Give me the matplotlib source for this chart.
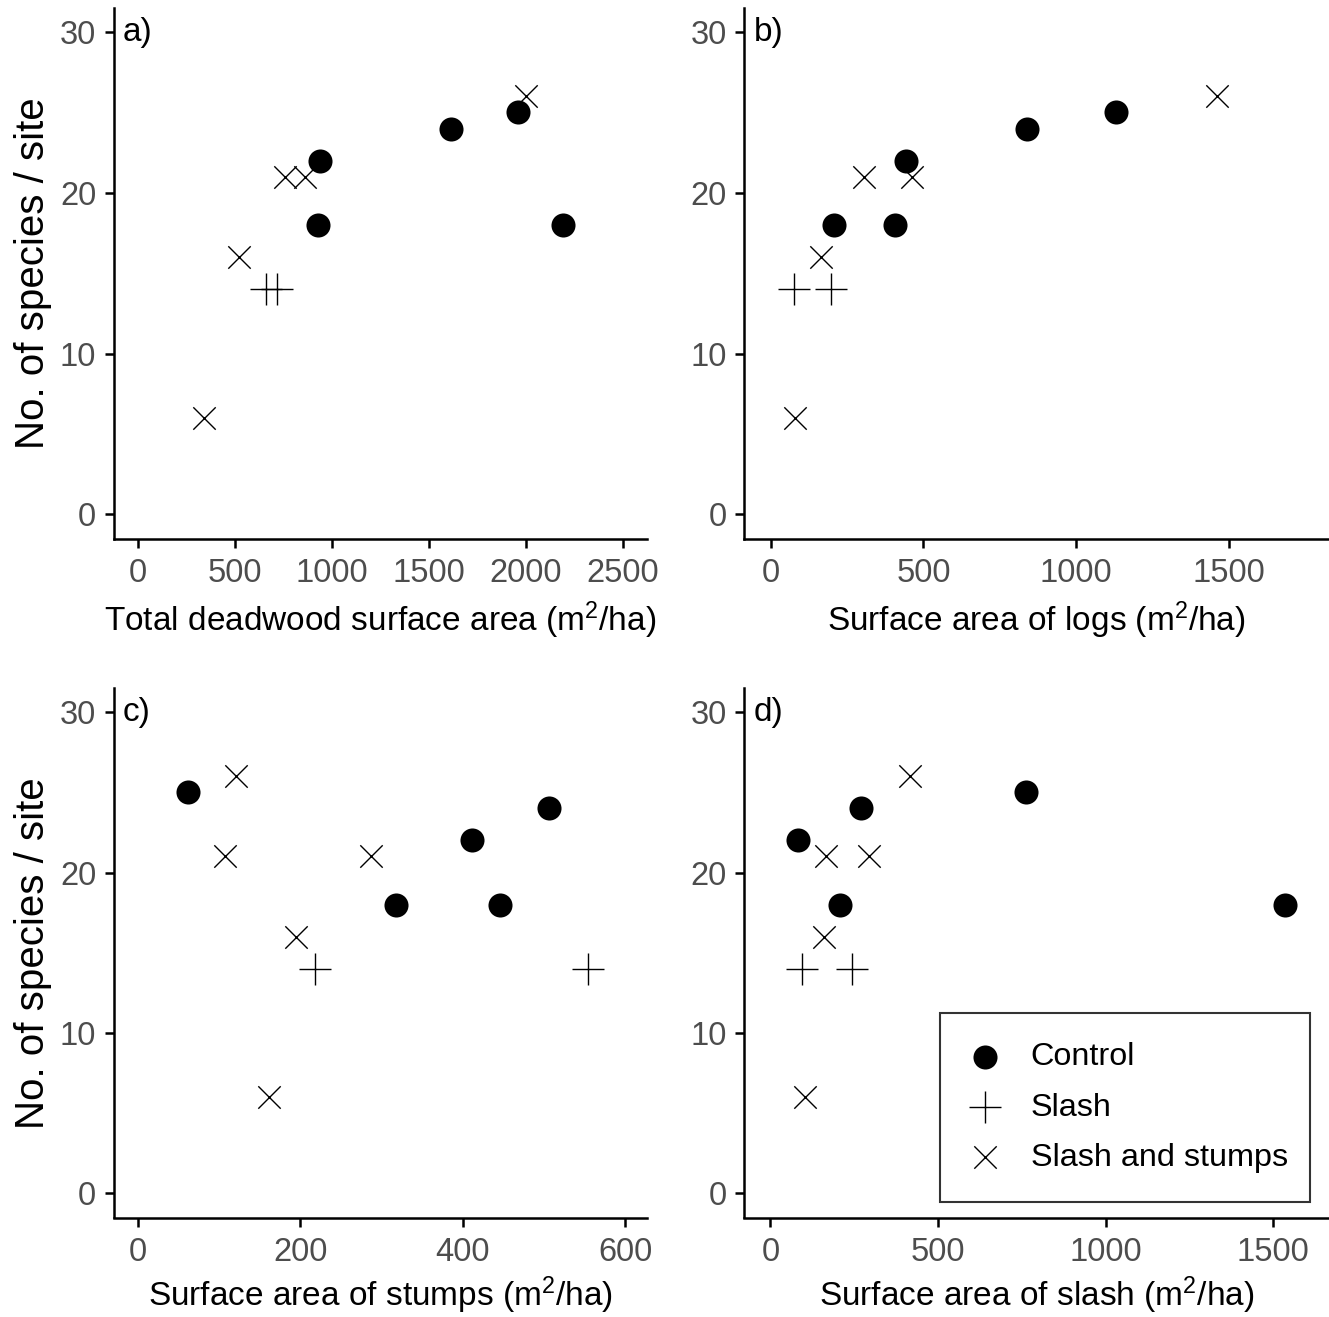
import matplotlib
matplotlib.use("Agg")
import matplotlib.pyplot as plt
import matplotlib.transforms as mtransforms

plt.rcParams['font.family'] = ['Liberation Sans', 'DejaVu Sans']
plt.rcParams['mathtext.fontset'] = 'custom'
plt.rcParams['mathtext.rm'] = 'Liberation Sans'
plt.rcParams['mathtext.it'] = 'Liberation Sans'

# ---- data ----
groups = ["Control", "Slash", "Slash and stumps"]

species_control = [25, 24, 22, 18, 18]
species_slash = [14, 14]
species_ss = [6, 16, 21, 21, 26]

total_control = [1958, 1615, 937, 931, 2191]
total_slash = [716, 660]
total_ss = [342, 524, 759, 863, 2000]

logs_control = [1130, 839, 443, 408, 209]
logs_slash = [77, 198]
logs_ss = [80, 165, 307, 462, 1462]

stumps_control = [62, 506, 411, 318, 446]
stumps_slash = [554, 218]
stumps_ss = [161, 195, 287, 107, 121]

slash_control = [762, 271, 82, 208, 1535]
slash_slash = [93, 243]
slash_ss = [103, 160, 167, 294, 416]

panel_labels = ["a)", "b)", "c)", "d)"]
x_titles = ["Total deadwood surface area", "Surface area of logs",
            "Surface area of stumps", "Surface area of slash"]
x_ticks = [[0, 500, 1000, 1500, 2000, 2500], [0, 500, 1000, 1500],
           [0, 200, 400, 600], [0, 500, 1000, 1500]]
y_ticks = [0, 10, 20, 30]
y_title = "No. of species / site"

xdata = [(total_control, total_slash, total_ss),
         (logs_control, logs_slash, logs_ss),
         (stumps_control, stumps_slash, stumps_ss),
         (slash_control, slash_slash, slash_ss)]
ydata = (species_control, species_slash, species_ss)

# ---- layout ----
W, H = 1329, 1317
fig = plt.figure(figsize=(W / 100, H / 100), dpi=100)

def frac(l, r, t, b):
    return [l / W, 1 - b / H, (r - l) / W, (b - t) / H]

rects = [frac(113.6, 647, 8, 538.5), frac(744, 1329, 8, 538.5),
         frac(113.6, 647, 688, 1217.5), frac(744, 1329, 688, 1217.5)]
xlims = [(-125, 2625), (-87, 1827), (-30, 627), (-79, 1667)]
xlabel_pads = [7.5, 7.5, 4.5, 4.5]

marker_styles = [dict(marker='o', s=300, c='black', linewidths=0),
                 dict(marker='+', s=560, c='black', linewidths=1.0),
                 dict(marker='x', s=260, c='black', linewidths=1.0)]

tick_color = '#4D4D4D'
handles = []
for i in range(4):
    ax = fig.add_axes(rects[i])
    for g in range(3):
        h = ax.scatter(xdata[i][g], ydata[g], label=groups[g], **marker_styles[g])
        if i == 3:
            handles.append(h)
    ax.set_xlim(*xlims[i])
    ax.set_ylim(-1.5, 31.5)
    ax.set_xticks(x_ticks[i])
    ax.set_yticks(y_ticks)
    for s in ['top', 'right']:
        ax.spines[s].set_visible(False)
    for s in ['left', 'bottom']:
        ax.spines[s].set_linewidth(1.8)
    ax.tick_params(axis='both', length=6.5, width=1.8, labelsize=23.5,
                   labelcolor=tick_color)
    ax.tick_params(axis='x', pad=7.5)
    ax.tick_params(axis='y', pad=6)
    ax.set_xlabel(x_titles[i] + r" (m$^{2}$/ha)", fontsize=24,
                  labelpad=xlabel_pads[i])
    if i in (0, 2):
        ax.set_ylabel(y_title, fontsize=29, labelpad=6)
    trans = mtransforms.blended_transform_factory(ax.transAxes, ax.transData)
    ax.text(0.016, 30, panel_labels[i], transform=trans, ha='left', va='center',
            fontsize=24, color='black')
    if i == 3:
        leg = ax.legend(handles=handles, loc='upper left',
                        bbox_to_anchor=(940 / W, 1 - 1205 / H, 370 / W, 192 / H),
                        bbox_transform=fig.transFigure, borderaxespad=0,
                        mode='expand',
                        fontsize=23.3, frameon=True, fancybox=False,
                        edgecolor='black', borderpad=0.9, labelspacing=0.63,
                        handlelength=1.0, handletextpad=0.9, scatterpoints=1)
        leg.get_frame().set_linewidth(1.5)

fig.savefig("out.png", dpi=100, facecolor='white')
